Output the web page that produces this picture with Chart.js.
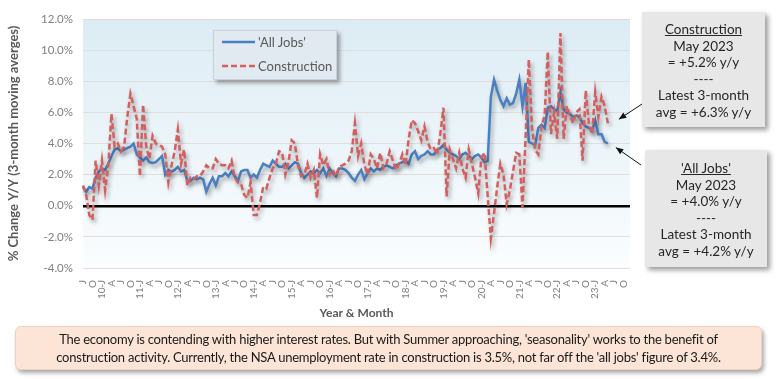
<!DOCTYPE html>
<html><head><meta charset="utf-8">
<script src="https://cdn.jsdelivr.net/npm/chart.js@4.4.0/dist/chart.umd.min.js"></script>
<style>
html,body{margin:0;padding:0;background:#fff;}
#wrap{position:relative;width:778px;height:379px;overflow:hidden;font-family:Lato,'Open Sans',sans-serif;}
#c{position:absolute;left:0;top:0;}
.legend{position:absolute;left:213px;top:30px;width:122px;height:48px;background:rgba(226,233,240,0.95);border:1px solid #c8d2dc;box-shadow:3px 3px 4px rgba(0,0,0,0.35);}
.legend .item{position:absolute;left:8px;height:16px;font-size:13px;color:#595959;line-height:16px;}
.legend svg{position:absolute;left:0;top:2px;}
.legend span{position:absolute;left:36px;top:0;white-space:nowrap;}
.note{position:absolute;background:#e7e7e7;box-shadow:3px 3px 5px rgba(0,0,0,0.4);text-align:center;font-size:13.5px;line-height:16.5px;color:#262626;box-sizing:border-box;}
.note u{text-decoration:underline;}
.foot{position:absolute;left:15px;top:326px;width:747px;height:44px;background:#fce4d6;border:1px solid #ecd2c2;border-radius:6px;box-shadow:2px 3px 4px rgba(0,0,0,0.35);box-sizing:border-box;text-align:center;font-size:13px;line-height:18px;color:#1a1a1a;padding-top:3px;}
.foot div{white-space:nowrap;letter-spacing:-0.25px;}
</style></head>
<body>
<div id="wrap">
<canvas id="c" width="778" height="379"></canvas>
<div class="legend">
  <div class="item" style="top:3px;width:110px"><svg width="34" height="12"><line x1="0" y1="6" x2="33" y2="6" stroke="#4a7fc1" stroke-width="2.5"/></svg><span>'All Jobs'</span></div>
  <div class="item" style="top:27px;width:110px"><svg width="34" height="12"><line x1="0" y1="6" x2="33" y2="6" stroke="#d45f5f" stroke-width="2.5" stroke-dasharray="6,3"/></svg><span>Construction</span></div>
</div>
<div class="note" style="left:642px;top:12px;width:123px;height:115px;padding-top:9px;"><u>Construction</u><br>May 2023<br>= +5.2% y/y<br>----<br>Latest 3-month<br>avg = +6.3% y/y</div>
<div class="note" style="left:645px;top:150px;width:122px;height:117px;padding-top:10px;"><u>'All Jobs'</u><br>May 2023<br>= +4.0% y/y<br>----<br>Latest 3-month<br>avg = +4.2% y/y</div>
<div class="foot"><div>The economy is contending with higher interest rates. But with Summer approaching, 'seasonality' works to the benefit of</div><div>construction activity. Currently, the NSA unemployment rate in construction is 3.5%, not far off the 'all jobs' figure of 3.4%.</div></div>
</div>
<script>
// ---- Data (monthly, Jul 2009 .. May 2023) ----
const firstYear = 2009, firstMonth = 7;   // Jul 2009
const lastYear = 2023, lastMonth = 12;    // axis runs to Dec 2023
const quarterLetters = {1:'J', 4:'A', 7:'J', 10:'O'};

const allJobs = [
  1.2, 0.9, 1.2, 1.1, 1.8, 2.2,
  2.4, 2.3, 2.7, 3.2, 3.6, 3.7, 3.5, 3.6, 3.7, 3.8, 4.0, 3.3,
  3.1, 2.9, 3.1, 2.8, 2.75, 2.8, 3.0, 3.2, 2.0, 2.3, 2.2, 2.3,
  2.5, 2.2, 2.3, 1.6, 1.6, 1.8, 1.7, 1.8, 1.7, 0.9, 1.4, 1.8,
  1.3, 1.9, 1.9, 2.1, 1.9, 2.2, 1.9, 1.6, 2.2, 2.3, 2.3, 1.8,
  2.0, 1.8, 2.3, 2.7, 2.6, 2.5, 2.9, 2.7, 2.5, 2.5, 2.7, 2.4,
  2.6, 2.8, 2.7, 2.1, 1.8, 2.0, 2.2, 2.1, 2.3, 2.1, 2.4, 1.9,
  2.4, 2.1, 1.9, 2.4, 2.4, 2.3, 2.1, 1.8, 1.6, 2.0, 2.3, 1.7,
  2.1, 2.4, 2.2, 2.4, 2.3, 2.5, 2.6, 2.5, 2.4, 2.6, 2.7, 2.8,
  2.9, 2.7, 3.3, 3.5, 3.0, 3.2, 3.3, 3.5, 3.3, 3.3, 3.6, 3.7,
  3.9, 3.6, 3.4, 3.3, 3.2, 3.0, 3.3, 3.4, 3.2, 3.0, 3.2, 3.3,
  3.1, 2.8, 2.9, 7.0, 8.1, 7.4, 6.8, 6.4, 6.9, 6.5, 6.6, 7.2,
  8.1, 6.4, 7.9, 4.1, 4.0, 3.9, 5.0, 5.2, 5.0, 6.3, 6.4, 6.2,
  6.1, 7.3, 6.2, 6.0, 5.9, 5.7, 5.8, 5.7, 5.3, 5.1, 5.0, 4.8,
  5.5, 4.6, 4.6, 4.1, 4.0
];

const construction = [
  1.3, 0.7, -0.6, -0.9, 2.9, 1.3,
  2.9, 1.0, 2.6, 5.9, 3.8, 4.0, 3.5, 3.8, 5.7, 7.2, 6.4, 5.6,
  1.9, 6.5, 3.8, 3.0, 4.5, 4.0, 3.9, 3.8, 3.3, 1.5, 2.6, 3.5,
  4.9, 2.7, 3.6, 1.3, 1.8, 1.7, 1.9, 1.9, 2.2, 2.6, 2.4, 2.4,
  3.0, 2.7, 2.6, 2.6, 2.4, 2.9, 1.8, 1.5, 1.4, 0.7, 0.5, 1.5,
  -0.6, -0.6, 0.2, 1.2, 1.1, 1.8, 2.4, 2.7, 3.5, 3.4, 2.0, 2.8,
  4.2, 4.0, 2.6, 1.9, 2.0, 2.7, 1.8, 2.3, 0.5, 3.3, 2.6, 3.0,
  2.0, 2.3, 1.9, 2.5, 2.6, 2.7, 2.9, 3.5, 5.3, 3.2, 4.0, 2.6,
  2.0, 3.3, 3.0, 2.4, 3.4, 2.4, 2.7, 3.5, 2.9, 2.3, 2.7, 3.3,
  2.6, 4.3, 5.5, 5.3, 4.8, 4.2, 5.1, 4.1, 3.6, 3.7, 3.3, 4.6,
  6.3, 0.6, 3.6, 3.0, 2.4, 3.4, 2.4, 1.8, 3.6, 2.7, 1.8, 0.8,
  3.1, 3.4, 0.6, -2.1, -0.5, 1.2, 2.7, 2.0, 0.1, 1.0, 2.2, 3.4,
  3.3, -0.1, 4.5, 9.4, 5.0, 3.6, 3.3, 5.1, 5.8, 9.9, 4.6, 6.0,
  4.3, 11.1, 4.3, 6.4, 5.8, 5.3, 6.0, 6.2, 2.9, 7.4, 5.3, 4.6,
  7.3, 5.7, 7.0, 6.4, 5.3
];

const yTicks = {min: -4, max: 12, step: 2};

// categories
const categories = [];
for (let y = firstYear; y <= lastYear; y++) {
  for (let m = (y === firstYear ? firstMonth : 1); m <= (y === lastYear ? lastMonth : 12); m++) {
    categories.push({y, m});
  }
}
function tickText(c) {
  const q = quarterLetters[c.m];
  if (!q) return '';
  if (c.m === 1) return String(c.y).slice(2) + '-J';
  return q;
}
const labels = categories.map(c => c.y + '-' + String(c.m).padStart(2, '0'));

const FONT = "Lato,'Open Sans',sans-serif";
Chart.defaults.font.family = FONT;

const bgPlugin = {
  id: 'bg',
  beforeDraw(chart) {
    const {ctx, chartArea: a} = chart;
    const g = ctx.createLinearGradient(0, a.top, 0, a.bottom);
    g.addColorStop(0, '#dcecf4');
    g.addColorStop(1, '#fbfdfe');
    ctx.save();
    ctx.fillStyle = g;
    ctx.fillRect(a.left, a.top, a.right - a.left, a.bottom - a.top);
    ctx.restore();
  }
};
const shadowPlugin = {
  id: 'shadow',
  beforeDatasetDraw(chart) {
    const ctx = chart.ctx;
    ctx.save();
    ctx.shadowColor = 'rgba(0,0,0,0.35)';
    ctx.shadowBlur = 4;
    ctx.shadowOffsetX = 2;
    ctx.shadowOffsetY = 3;
  },
  afterDatasetDraw(chart) { chart.ctx.restore(); }
};
const arrowPlugin = {
  id: 'arrows',
  afterDraw(chart) {
    const ctx = chart.ctx;
    const specs = [
      {ds: 1, dx: 11, dy: -4, tx: 642, ty: 104},
      {ds: 0, dx: 8, dy: 4, tx: 641, ty: 165}
    ];
    specs.forEach(s => {
      const meta = chart.getDatasetMeta(s.ds);
      const pt = meta.data[meta.data.length - 1];
      const hx = pt.x + s.dx, hy = pt.y + s.dy;
      const ang = Math.atan2(hy - s.ty, hx - s.tx);
      ctx.save();
      ctx.strokeStyle = '#111'; ctx.fillStyle = '#111'; ctx.lineWidth = 1;
      ctx.beginPath(); ctx.moveTo(s.tx, s.ty); ctx.lineTo(hx, hy); ctx.stroke();
      ctx.beginPath();
      ctx.moveTo(hx, hy);
      ctx.lineTo(hx - 8 * Math.cos(ang - 0.4), hy - 8 * Math.sin(ang - 0.4));
      ctx.lineTo(hx - 8 * Math.cos(ang + 0.4), hy - 8 * Math.sin(ang + 0.4));
      ctx.closePath(); ctx.fill();
      ctx.restore();
    });
  }
};

new Chart(document.getElementById('c'), {
  type: 'line',
  data: {
    labels,
    datasets: [
      {label: "'All Jobs'", data: allJobs, borderColor: '#4a7fc1', borderWidth: 2.5, pointRadius: 0, tension: 0, order: 1},
      {label: 'Construction', data: construction, borderColor: '#d45f5f', borderWidth: 2.5, borderDash: [6, 3], pointRadius: 0, tension: 0, order: 0}
    ]
  },
  options: {
    responsive: false,
    animation: false,
    layout: {padding: {left: 0, top: 19, right: 148, bottom: 59}},
    plugins: {legend: {display: false}, tooltip: {enabled: false}},
    scales: {
      x: {
        grid: {display: false},
        border: {display: false},
        ticks: {
          autoSkip: false, maxRotation: 90, minRotation: 90, padding: 4,
          color: '#7f7f7f', font: {size: 10},
          callback: (v, i) => tickText(categories[i])
        },
        title: {display: true, text: 'Year & Month', color: '#595959', font: {size: 12, weight: 'bold'}, padding: {top: 0, bottom: 0}},
        afterFit(s) { s.height = 52; }
      },
      y: {
        min: yTicks.min, max: yTicks.max,
        ticks: {stepSize: yTicks.step, padding: 10, color: '#7f7f7f', font: {size: 11.5},
          callback: v => v.toFixed(1) + '%'},
        grid: {
          drawTicks: false,
          color: c => c.tick && c.tick.value === 0 ? '#000' : '#e2dcdc',
          lineWidth: c => c.tick && c.tick.value === 0 ? 2.5 : 1
        },
        border: {display: false},
        title: {display: true, text: '% Change Y/Y (3-month moving averges)', color: '#595959', font: {size: 13, weight: 'bold'}, padding: {top: 6, bottom: 0}},
        afterFit(s) { s.width = 83; }
      }
    }
  },
  plugins: [bgPlugin, shadowPlugin, arrowPlugin]
});
</script>
</body></html>
